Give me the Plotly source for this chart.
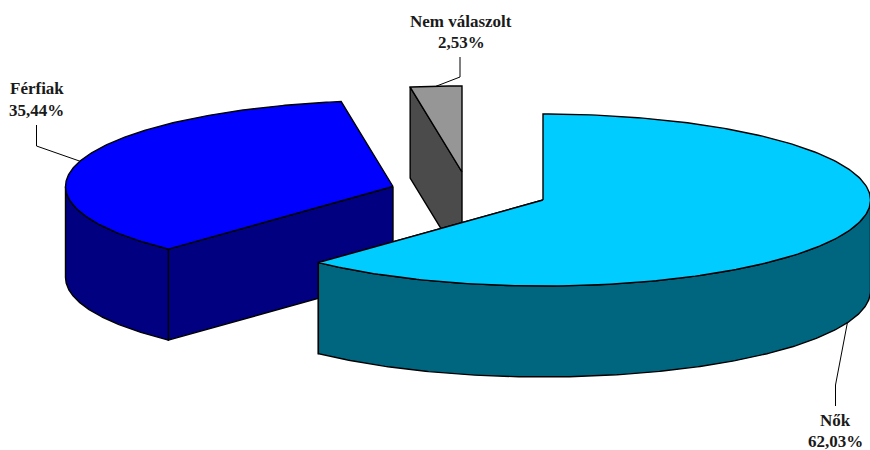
import numpy as np
import plotly.graph_objects as go

# Survey breakdown by gender, clockwise from twelve o'clock
categories = ["Nők", "Férfiak", "Nem válaszolt"]
values = [62.03, 35.44, 2.53]
value_labels = ["62,03%", "35,44%", "2,53%"]

top_colors = ["#00CCFF", "#0000FF", "#969696"]
side_colors = ["#006680", "#000080", "#4B4B4B"]

# Pie centre of each exploded slice, in pixels
centers = [(543.0, 200.0), (393.0, 186.5), (462.0, 172.0)]
RX, RY, DEPTH = 327.5, 86.0, 91.0

# Leader elbows and label text centres
elbows = [[(835.5, 385), (835.5, 406)], [(36.5, 146), (36.5, 125)], [(460, 77), (460, 57)]]
label_pos = [(835.5, 420, 441), (36.5, 88, 110), (461, 21, 42)]

OUTLINE = dict(color="#000000", width=1.4)
FONT = dict(family="Liberation Serif", size=17, color="#1a1a1a")


def rim(cx, cy, a0, a1, drop=0.0):
    """Points along the elliptical rim; angles in degrees clockwise from the top."""
    t = np.radians(np.linspace(a0, a1, 240))
    return cx + RX * np.sin(t), cy - RY * np.cos(t) + drop


def polygon(x, y, fill):
    return go.Scatter(
        x=np.append(x, x[0]), y=np.append(y, y[0]), mode="lines", fill="toself",
        fillcolor=fill, line=OUTLINE, hoverinfo="skip", showlegend=False,
    )


def faces(i, a0, a1):
    """Side walls and top of one slice, back to front."""
    cx, cy = centers[i]
    side, top = side_colors[i], top_colors[i]
    out = []
    # Flat cut faces running from the centre to each rim end
    for a in (a0, a1):
        ex, ey = rim(cx, cy, a, a)
        ex, ey = ex[0], ey[0]
        if ey > cy or (i == 2 and a == a0):
            out.append(polygon(np.array([cx, ex, ex, cx]),
                               np.array([cy, ey, ey + DEPTH, cy + DEPTH]), side))
    # Outer curved wall, only on the lower half of the ellipse
    lo, hi = max(a0, 90.0), min(a1, 270.0)
    if hi > lo:
        x1, y1 = rim(cx, cy, lo, hi)
        x2, y2 = rim(cx, cy, lo, hi, DEPTH)
        out.append(polygon(np.concatenate([x1, x2[::-1]]), np.concatenate([y1, y2[::-1]]), side))
    x, y = rim(cx, cy, a0, a1)
    out.append(polygon(np.concatenate([[cx], x]), np.concatenate([[cy], y]), top))
    return out


edges = np.concatenate([[0.0], np.cumsum(values)]) * 360.0 / sum(values)

fig = go.Figure()
for i in (2, 1, 0):
    for trace in faces(i, edges[i], edges[i + 1]):
        fig.add_trace(trace)

# Leader lines start on the rim at each slice's middle angle
for i in range(3):
    mid = (edges[i] + edges[i + 1]) / 2.0
    ax, ay = rim(*centers[i], mid, mid, DEPTH if i == 0 else 0.0)
    xs = [ax[0]] + [p[0] for p in elbows[i]]
    ys = [ay[0]] + [p[1] for p in elbows[i]]
    fig.add_trace(go.Scatter(x=xs, y=ys, mode="lines", line=dict(color="#000000", width=1),
                             hoverinfo="skip", showlegend=False))

annotations = []
for i in range(3):
    lx, y1, y2 = label_pos[i]
    for text, ly in ((categories[i], y1), (value_labels[i], y2)):
        annotations.append(dict(x=lx, y=ly, xref="x", yref="y", text=f"<b>{text}</b>",
                                showarrow=False, font=FONT, xanchor="center", yanchor="middle"))

fig.update_layout(
    width=870, height=450, margin=dict(l=0, r=0, t=0, b=0),
    paper_bgcolor="#FFFFFF", plot_bgcolor="#FFFFFF",
    xaxis=dict(range=[0, 870], visible=False, fixedrange=True),
    yaxis=dict(range=[450, 0], visible=False, fixedrange=True),
    annotations=annotations,
)
fig.write_html("out.html", config=dict(displayModeBar=False))
